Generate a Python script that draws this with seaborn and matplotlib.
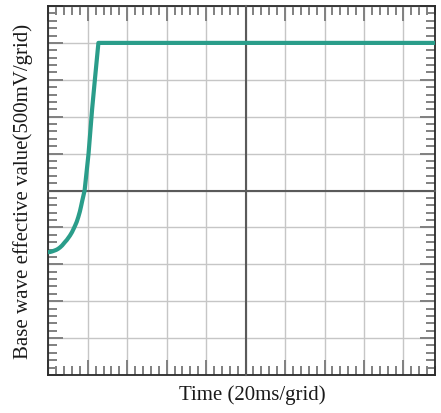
import matplotlib
matplotlib.use("Agg")
import matplotlib.pyplot as plt
import seaborn as sns
from matplotlib.ticker import MultipleLocator

# -----------------------------
# Data (grid divisions: 20 ms / 500 mV per grid)
# -----------------------------
time_div = [0.0, 0.05, 0.10, 0.15, 0.20, 0.25, 0.30, 0.35, 0.42, 0.47, 0.55, 0.60,
            0.65, 0.68, 0.72, 0.76, 0.80, 0.83, 0.86, 0.89, 0.92, 0.97, 1.02, 1.11,
            1.18, 1.27, 9.8]
volt_div = [-1.67, -1.665, -1.65, -1.63, -1.61, -1.58, -1.54, -1.49, -1.40, -1.34, -1.22, -1.13,
            -1.02, -0.95, -0.85, -0.72, -0.57, -0.43, -0.28, -0.14, 0.0, 0.5, 1.0, 2.2,
            3.0, 4.0, 4.0]

x_label = "Time (20ms/grid)"
y_label = "Base wave effective value(500mV/grid)"

# -----------------------------
# Style
# -----------------------------
sns.set_style("white")
plt.rcParams["font.family"] = ["Liberation Serif", "DejaVu Serif"]

tick_col = "#808080"
fig = plt.figure(figsize=(4.41, 4.13), dpi=100)
pos = [48.3 / 441, 1 - 375 / 413, (435 - 48.3) / 441, (375 - 6) / 413]

# border axes with grid
ax = fig.add_axes(pos)
ax.set_xlim(0, 9.8)
ax.set_ylim(-5, 5)
for a in (ax.xaxis, ax.yaxis):
    a.set_major_locator(MultipleLocator(1))
    a.set_minor_locator(MultipleLocator(0.2))
ax.grid(which="major", color="#c6c6c6", lw=1)
ax.tick_params(which="both", direction="in", top=True, right=True, bottom=True, left=True,
               labelbottom=False, labelleft=False, color=tick_col, width=1.4)
ax.tick_params(which="major", length=11)
ax.tick_params(which="minor", length=6.5)
for s in ax.spines.values():
    s.set_color("#2a2a2a")
    s.set_linewidth(1.3)

# center cross axes + curve
ax2 = fig.add_axes(pos, facecolor="none")
ax2.set_xlim(0, 9.8)
ax2.set_ylim(-5, 5)
for a in (ax2.xaxis, ax2.yaxis):
    a.set_major_locator(MultipleLocator(1))
    a.set_minor_locator(MultipleLocator(0.2))
ax2.spines["left"].set_position(("data", 5))
ax2.spines["bottom"].set_position(("data", 0))
ax2.spines["top"].set_visible(False)
ax2.spines["right"].set_visible(False)
for k in ("left", "bottom"):
    ax2.spines[k].set_color("#5a5a5a")
    ax2.spines[k].set_linewidth(1.5)
ax2.tick_params(axis="x", which="both", direction="in", labelbottom=False, color=tick_col, width=1.4)
ax2.tick_params(axis="y", which="both", direction="out", labelleft=False, color=tick_col, width=1.4)
ax2.tick_params(which="major", length=11)
ax2.tick_params(which="minor", length=6.5)

sns.lineplot(x=time_div, y=volt_div, ax=ax2, color="#2a9d8a", lw=3, zorder=5)
ax2.set_xlabel("")
ax2.set_ylabel("")

fig.text(252 / 441, 1 - 395 / 413, x_label, ha="center", va="center", fontsize=15, color="#1a1a1a")
fig.text(23 / 441, 1 - 191 / 413, y_label, ha="center", va="center", rotation=90,
         fontsize=15, color="#1a1a1a")

fig.savefig("out.png", dpi=100)
